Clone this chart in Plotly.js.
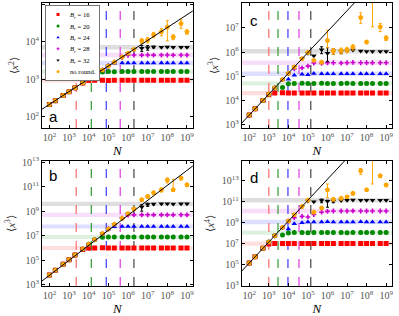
<!DOCTYPE html>
<html><head><meta charset="utf-8">
<script src="https://cdn.plot.ly/plotly-3.0.1.min.js"></script>
<style>html,body{margin:0;padding:0;background:#fff}#chart{width:399px;height:316px}</style>
</head><body><div id="chart"></div>
<script>
// ---------- data ----------
const N = [1e2,2e2,5e2,1e3,2e3,5e3,1e4,2e4,5e4,1e5,2e5,5e5,1e6,2e6,5e6,1e7,2e7,5e7,1e8,2e8,5e8,1e9];
const seriesNames = ['<i>B<sub>r</sub></i> = 16','<i>B<sub>r</sub></i> = 20','<i>B<sub>r</sub></i> = 24','<i>B<sub>r</sub></i> = 28','<i>B<sub>r</sub></i> = 32','no round.'];
const panelLetters = ['a','c','b','d'];
const yTitles = ['⟨<i>x</i><sup>2</sup>⟩','⟨<i>x</i><sup>3</sup>⟩','⟨<i>x</i><sup>3</sup>⟩','⟨<i>x</i><sup>4</sup>⟩'];
const xTickVals = [1e2,1e3,1e4,1e5,1e6,1e7,1e8,1e9];
const xTickText = ['10<sup>2</sup>','10<sup>3</sup>','10<sup>4</sup>','10<sup>5</sup>','10<sup>6</sup>','10<sup>7</sup>','10<sup>8</sup>','10<sup>9</sup>'];
const yTickVals_a = [1e2,1e3,1e4,1e5];
const yTickText_a = ['10<sup>2</sup>','10<sup>3</sup>','10<sup>4</sup>','10<sup>5</sup>'];
const yTickVals_c = [1e3,1e4,1e5,1e6,1e7,1e8];
const yTickText_c = ['10<sup>3</sup>','10<sup>4</sup>','10<sup>5</sup>','10<sup>6</sup>','10<sup>7</sup>','10<sup>8</sup>'];
const yTickVals_b = [1e3,1e5,1e7,1e9,1e11,1e13];
const yTickText_b = ['10<sup>3</sup>','10<sup>5</sup>','10<sup>7</sup>','10<sup>9</sup>','10<sup>11</sup>','10<sup>13</sup>'];
const yTickVals_d = [1e3,1e5,1e7,1e9,1e11,1e13];
const yTickText_d = ['10<sup>3</sup>','10<sup>5</sup>','10<sup>7</sup>','10<sup>9</sup>','10<sup>11</sup>','10<sup>13</sup>'];

// panel a  <x^2>
const aLineN = [10, 1e10];
const aLineY = [98, 1.17e5];
const aRed    = [214,271,371,470,596,800,930,945,950,940,955,945,950,950,945,950,955,950,945,950,950,948];
const aGreen  = [214,271,371,470,596,815,1033,1300,1580,1620,1610,1625,1620,1615,1620,1625,1620,1620,1615,1620,1625,1620];
const aBlue   = [214,271,371,470,596,815,1033,1309,1791,2400,2700,2750,2740,2750,2760,2750,2745,2750,2755,2750,2745,2750];
const aMag    = [214,271,371,470,596,815,1033,1309,1791,2270,2877,3900,4400,4470,4450,4480,4460,4470,4480,4460,4470,4470];
const aBlack  = [214,271,371,470,596,815,1033,1309,1791,2270,2877,3936,4989,6324,6800,7000,7300,7250,7300,7200,7250,7250];
const aOrange = [214,271,371,470,596,815,1033,1309,1791,2270,2877,3936,4989,6324,10700,11200,15500,18600,25000,13500,31000,18600];
const aBlackErr   = [0,0,0,0,0,0,0,0,0,0,0,0,0,0,1200,1000,400,0,0,0,0,0];
const aOrangeErrP = [0,0,0,0,0,0,0,0,0,0,0,0,0,0,1500,1800,2500,4000,12000,2000,8000,2500];
const aOrangeErrM = [0,0,0,0,0,0,0,0,0,0,0,0,0,0,1500,1800,2500,4000,14300,2000,8000,2500];
const aBandLo = [827,1411,2395,3893,6315];
const aBandHi = [1091,1860,3157,5132,8323];
const aVlines = [2.3e3,1.35e4,7.8e4,4e5,2e6];

// panel c  <x^3>
const cLineN = [10, 1e9];
const cLineY = [336, 2.74e9];
const cRed    = [2455,4467,9863,1.7e4,2.0e4,2.05e4,2.0e4,2.0e4,2.02e4,2.0e4,2.0e4,2.02e4,2.0e4,2.0e4,2.0e4,2.02e4,2.0e4,2.0e4,2.0e4,2.0e4,2.02e4,2.0e4];
const cGreen  = [2455,4467,9863,1.79e4,3.27e4,3.4e4,4.8e4,5.0e4,5.1e4,5.0e4,5.0e4,5.1e4,5.0e4,5.0e4,5.0e4,5.1e4,5.0e4,5.0e4,5.0e4,5.0e4,5.0e4,5.0e4];
const cBlue   = [2455,4467,9863,1.79e4,3.27e4,7.21e4,7.5e4,1.1e5,1.2e5,1.15e5,1.3e5,1.25e5,1.26e5,1.25e5,1.26e5,1.27e5,1.26e5,1.26e5,1.25e5,1.26e5,1.26e5,1.26e5];
const cMag    = [2455,4467,9863,1.79e4,3.27e4,7.21e4,1.31e5,2.0e5,2.2e5,2.6e5,3.5e5,3.4e5,3.6e5,3.6e5,3.5e5,3.6e5,3.7e5,3.6e5,3.6e5,3.6e5,3.6e5,3.6e5];
const cBlack  = [2455,4467,9863,1.79e4,3.27e4,7.21e4,1.31e5,2.39e5,5.27e5,9.0e5,7.0e5,1.25e6,9.0e5,1.1e6,1.05e6,1.1e6,1.2e6,1.1e6,1.05e6,1.05e6,1.05e6,1.05e6];
const cOrange = [2455,4467,9863,1.79e4,3.27e4,7.21e4,1.31e5,2.39e5,5.27e5,9.6e5,4.5e5,3.8e5,3.0e6,1.1e6,1.15e6,1.25e6,1.6e6,2.7e7,2.6e6,3e8,1.1e7,3.8e6];
const cBlackErrP  = [0,0,0,0,0,0,0,0,0,0,0,4e5,6e5,3e5,2e5,0,0,0,0,0,0,0];
const cBlackErrM  = [0,0,0,0,0,0,0,0,0,0,0,4e5,5e5,3e5,2e5,0,0,0,0,0,0,0];
const cOrangeErrP = [0,0,0,0,0,0,0,0,0,0,0,0,5e6,3e5,3e5,3e5,4e5,1.5e7,4e5,0,4e6,8e5];
const cOrangeErrM = [0,0,0,0,0,0,0,0,0,0,0,0,1.5e6,3e5,3e5,3e5,4e5,1.2e7,4e5,2.89e8,4e6,8e5];
const cBandLo = [1.63e4,4.07e4,1.02e5,2.93e5,8.7e5];
const cBandHi = [2.46e4,6.15e4,1.55e5,4.43e5,1.32e6];
const cVlines = [1e3,2.95e3,9.5e3,3.5e4,1.4e5];

// panel b  <x^3>
const bLineN = [10, 1e10];
const bLineY = [355, 3.55e13];
const bRed    = [6.31e3,1.5e4,4.72e4,1.12e5,2.67e5,7.5e5,9.5e5,1.0e6,1.02e6,0.98e6,1.0e6,1.0e6,1.01e6,1.0e6,1.0e6,0.99e6,1.0e6,1.0e6,1.01e6,1.0e6,1.0e6,1.0e6];
const bGreen  = [6.31e3,1.5e4,4.72e4,1.12e5,2.67e5,8.39e5,2e6,4.74e6,7.5e6,7.9e6,8.0e6,7.9e6,7.9e6,8.0e6,7.9e6,7.9e6,8.0e6,7.9e6,7.9e6,7.9e6,8.0e6,7.9e6];
const bBlue   = [6.31e3,1.5e4,4.72e4,1.12e5,2.67e5,8.39e5,2e6,4.74e6,1.49e7,3.55e7,5.3e7,5.6e7,5.6e7,5.7e7,5.6e7,5.6e7,5.6e7,5.7e7,5.6e7,5.6e7,5.6e7,5.6e7];
const bMag    = [6.31e3,1.5e4,4.72e4,1.12e5,2.67e5,8.39e5,2e6,4.74e6,1.49e7,3.55e7,8.43e7,2.65e8,4.8e8,5.0e8,5.0e8,5.1e8,5.0e8,5.0e8,5.0e8,5.0e8,5.1e8,5.0e8];
const bBlack  = [6.31e3,1.5e4,4.72e4,1.12e5,2.67e5,8.39e5,2e6,4.74e6,1.49e7,3.55e7,8.43e7,2.65e8,6.31e8,1.5e9,2.2e9,3.5e9,3.8e9,4.0e9,4.0e9,3.9e9,4.0e9,4.0e9];
const bOrange = [6.31e3,1.5e4,4.72e4,1.12e5,2.67e5,8.39e5,2e6,4.74e6,1.49e7,3.55e7,8.43e7,2.65e8,6.31e8,1.5e9,8.7e9,1.6e10,3.2e10,5.6e10,3.5e11,5.6e10,5.0e11,1.4e11];
const bBlackErr   = [0,0,0,0,0,0,0,0,0,0,0,0,0,0,1.2e9,1.0e9,5e8,0,0,0,0,0];
const bOrangeErrP = [0,0,0,0,0,0,0,0,0,0,0,0,0,0,2e9,4e9,1e10,2e10,1.5e11,3.4e11,1.5e11,4e10];
const bOrangeErrM = [0,0,0,0,0,0,0,0,0,0,0,0,0,0,2e9,4e9,1e10,2e10,1.5e11,1.6e10,1.5e11,4e10];
const bBandLo = [6.76e5,5.34e6,3.79e7,3.38e8,2.7e9];
const bBandHi = [1.48e6,1.17e7,8.28e7,7.4e8,5.9e9];
const bVlines = [2.3e3,1.35e4,7.8e4,4e5,2e6];

// panel d  <x^4>
const dLineN = [10, 1e8];
const dLineY = [1.41e3, 1.41e17];
const dRed    = [1.41e5,5.65e5,3.53e6,9e6,1e7,1.02e7,1e7,1e7,1.01e7,1e7,1e7,1.02e7,1e7,1e7,1e7,1.01e7,1e7,1e7,1e7,1.01e7,1e7,1e7];
const dGreen  = [1.41e5,5.65e5,3.53e6,1.41e7,5.65e7,6.5e7,1.05e8,1.12e8,1.12e8,1.1e8,1.12e8,1.13e8,1.12e8,1.12e8,1.12e8,1.1e8,1.12e8,1.12e8,1.12e8,1.12e8,1.12e8,1.12e8];
const dBlue   = [1.41e5,5.65e5,3.53e6,1.41e7,5.65e7,3.53e8,2.5e8,8e8,1.0e9,1.15e9,1.17e9,1.17e9,1.2e9,1.17e9,1.17e9,1.17e9,1.17e9,1.2e9,1.17e9,1.17e9,1.17e9,1.17e9];
const dMag    = [1.41e5,5.65e5,3.53e6,1.41e7,5.65e7,3.53e8,1.41e9,3e9,4e9,3.5e9,6e9,1.0e10,1.2e10,1.3e10,1.3e10,1.3e10,1.35e10,1.3e10,1.3e10,1.3e10,1.3e10,1.3e10];
const dBlack  = [1.41e5,5.65e5,3.53e6,1.41e7,5.65e7,3.53e8,1.41e9,5.65e9,3.53e10,1.2e11,1.0e11,1.3e11,1.1e11,1.2e11,1.3e11,1.4e11,1.5e11,1.4e11,1.4e11,1.4e11,1.4e11,1.4e11];
const dOrange = [1.41e5,5.65e5,3.53e6,1.41e7,5.65e7,3.53e8,1.41e9,5.65e9,3.53e10,1.41e11,1.0e10,2.5e10,1.4e12,1.7e11,2.1e11,2.9e11,6.3e11,9e13,1.4e12,1e16,3e13,4e12];
const dBlackErrP  = [0,0,0,0,0,0,0,0,0,0,0,5e10,3e10,4e10,0,0,0,0,0,0,0,0];
const dBlackErrM  = [0,0,0,0,0,0,0,0,0,0,0,5e10,8e10,4e10,0,0,0,0,0,0,0,0];
const dOrangeErrP = [0,0,0,0,0,0,0,0,0,0,0,0,3.6e12,5e10,6e10,8e10,2e11,6e13,3e11,0,1e13,1e12];
const dOrangeErrM = [0,0,0,0,0,0,0,0,0,0,0,0,1.15e12,5e10,6e10,8e10,2e11,5e13,3e11,9.995e15,1e13,1e12];
const dBandLo = [6.2e6,6.9e7,7.2e8,8.0e9,8.6e10];
const dBandHi = [1.62e7,1.81e8,1.9e9,2.1e10,2.27e11];
const dVlines = [1e3,2.95e3,9.5e3,3.5e4,1.4e5];

// ---------- styles ----------
const colors = ['#ff0000','#008a00','#0000ff','#cc00cc','#000000','#ffa500'];
const symbols = ['square','circle','triangle-up','cross','triangle-down','pentagon'];
const markerSizes = [5,5,5,4,5,5.5];
const bandColors = ['rgba(255,0,0,0.13)','rgba(0,140,0,0.13)','rgba(0,0,255,0.13)','rgba(204,0,204,0.13)','rgba(0,0,0,0.13)'];
const vlineColors = ['#ff6a6a','#2f9a2f','#3a3aff','#dd3add','#444444'];

const panels = [
  {xa:'x', ya:'y', lineN:aLineN, lineY:aLineY, ys:[aRed,aGreen,aBlue,aMag,aBlack,aOrange],
   err:{4:[aBlackErr,aBlackErr],5:[aOrangeErrP,aOrangeErrM]}, lo:aBandLo, hi:aBandHi, vl:aVlines},
  {xa:'x2', ya:'y2', lineN:cLineN, lineY:cLineY, ys:[cRed,cGreen,cBlue,cMag,cBlack,cOrange],
   err:{4:[cBlackErrP,cBlackErrM],5:[cOrangeErrP,cOrangeErrM]}, lo:cBandLo, hi:cBandHi, vl:cVlines},
  {xa:'x3', ya:'y3', lineN:bLineN, lineY:bLineY, ys:[bRed,bGreen,bBlue,bMag,bBlack,bOrange],
   err:{4:[bBlackErr,bBlackErr],5:[bOrangeErrP,bOrangeErrM]}, lo:bBandLo, hi:bBandHi, vl:bVlines},
  {xa:'x4', ya:'y4', lineN:dLineN, lineY:dLineY, ys:[dRed,dGreen,dBlue,dMag,dBlack,dOrange],
   err:{4:[dBlackErrP,dBlackErrM],5:[dOrangeErrP,dOrangeErrM]}, lo:dBandLo, hi:dBandHi, vl:dVlines}
];

const traces = [];
const shapes = [];
panels.forEach((p, pi) => {
  p.ys.forEach((ys, si) => {
    const t = {
      type:'scatter', mode:'markers', x:N, y:ys, xaxis:p.xa, yaxis:p.ya,
      name:seriesNames[si], legendgroup:'s'+si, showlegend: pi===0,
      marker:{color:colors[si], symbol:symbols[si], size:markerSizes[si], line:{width:0}},
      cliponaxis:true
    };
    if (p.err[si]) {
      t.error_y = {type:'data', symmetric:false, array:p.err[si][0], arrayminus:p.err[si][1],
                   color:colors[si], thickness:1, width:1.5};
    }
    traces.push(t);
  });
  traces.push({type:'scatter', mode:'lines', x:p.lineN, y:p.lineY, xaxis:p.xa, yaxis:p.ya,
               line:{color:'#000', width:1}, showlegend:false, hoverinfo:'skip'});
  const xd = p.xa + ' domain', yd = p.ya + ' domain';
  p.lo.forEach((lo, k) => {
    shapes.push({type:'rect', xref:xd, yref:p.ya, x0:0, x1:1, y0:lo, y1:p.hi[k],
                 fillcolor:bandColors[k], line:{width:0}, layer:'below'});
  });
  p.vl.forEach((v, k) => {
    shapes.push({type:'line', xref:p.xa, yref:yd, x0:v, x1:v, y0:0, y1:1,
                 line:{color:vlineColors[k], width:1.2, dash:'dash'}, layer:'below'});
  });
});

const tickFont = {family:'Liberation Serif, DejaVu Serif, serif', size:10, color:'#555'};
function xAxis(domain, anchor) {
  return {type:'log', domain:domain, anchor:anchor, range:[1.62, 9.3], tickvals:xTickVals, ticktext:xTickText,
    tickangle:0, showgrid:false, zeroline:false, showline:true, linecolor:'#000', linewidth:1,
    mirror:'ticks', ticks:'inside', ticklen:3, tickcolor:'#000', tickfont:tickFont,
    title:{text:'<i>N</i>', font:{family:'Liberation Serif, serif', size:13, color:'#000'}, standoff:0}};
}
function yAxis(domain, anchor, range, tv, tt, title) {
  return {type:'log', domain:domain, anchor:anchor, range:range, tickvals:tv, ticktext:tt,
    showgrid:false, zeroline:false, showline:true, linecolor:'#000', linewidth:1,
    mirror:'ticks', ticks:'inside', ticklen:3, tickcolor:'#000', tickfont:tickFont,
    title:{text:title, font:{family:'Liberation Serif, serif', size:11, color:'#333'}, standoff:4}};
}

const letterPos = [[0.03,0.09],[0.04,0.86],[0.03,0.88],[0.04,0.87]];
const axPairs = [['x','y'],['x2','y2'],['x3','y3'],['x4','y4']];
const annotations = panelLetters.map((L, i) => ({
  text:L, xref:axPairs[i][0]+' domain', yref:axPairs[i][1]+' domain',
  x:letterPos[i][0], y:letterPos[i][1], xanchor:'left', yanchor:'middle', showarrow:false,
  font:{family:'Liberation Sans, Arial, sans-serif', size:15, color:'#000'}
}));

const layout = {
  width:399, height:316, margin:{l:42, r:7, t:3, b:30},
  paper_bgcolor:'#fff', plot_bgcolor:'#fff', showlegend:true,
  xaxis: xAxis([0,0.431],'y'),
  yaxis: yAxis([0.558,1],'x',[1.7,5.04],yTickVals_a,yTickText_a,yTitles[0]),
  xaxis2: xAxis([0.571,1],'y2'),
  yaxis2: yAxis([0.558,1],'x2',[2.85,8.03],yTickVals_c,yTickText_c,yTitles[1]),
  xaxis3: xAxis([0,0.431],'y3'),
  yaxis3: yAxis([0,0.442],'x3',[2.9,13.1],yTickVals_b,yTickText_b,yTitles[2]),
  xaxis4: xAxis([0.571,1],'y4'),
  yaxis4: yAxis([0,0.442],'x4',[2.95,14.9],yTickVals_d,yTickText_d,yTitles[3]),
  legend:{x:0.009, y:0.993, xanchor:'left', yanchor:'top', bgcolor:'#fff', bordercolor:'#666', borderwidth:1.5,
          font:{family:'Liberation Serif, serif', size:11, color:'#000'}, tracegroupgap:0, itemwidth:30},
  shapes:shapes, annotations:annotations
};

Plotly.newPlot('chart', traces, layout, {staticPlot:true, displayModeBar:false}).then(() => {
  const lg = document.querySelector('.legend');
  if (lg) lg.setAttribute('transform', lg.getAttribute('transform') + ' scale(0.6)');
});
</script>
</body></html>
